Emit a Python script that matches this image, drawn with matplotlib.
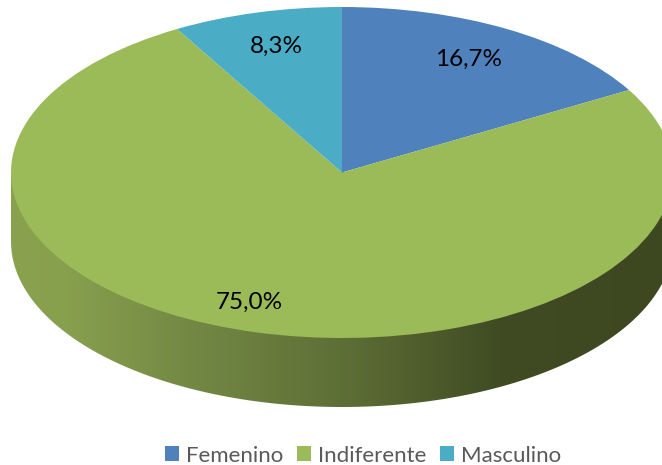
import numpy as np
import matplotlib
matplotlib.use("Agg")
import matplotlib.pyplot as plt
from matplotlib.colors import LinearSegmentedColormap
from matplotlib.patches import Polygon

categories = ["Femenino", "Indiferente", "Masculino"]
values = [16.7, 75.0, 8.3]
value_labels = ["16,7%", "75,0%", "8,3%"]

colors = ["#4F81BD", "#9BBB59", "#4BACC6"]
side_stops = [(0.0, "#8AA250"), (0.08, "#87A04E"), (0.29, "#718643"), (0.5, "#5E6F36"),
              (0.74, "#404B23"), (1.0, "#3D4720")]

W, H = 662, 465
CX, CY = 342.0, 172.5
RX, RY = 331.0, 165.5
DEPTH = 69.0 / RY


def to_data(px, py):
    # picture pixels to the unit circle of the pie
    return (px - CX) / RX, (CY - py) / RY


fig = plt.figure(figsize=(W / 100, H / 100), dpi=100)
ax = fig.add_axes([0, 0, 1, 1])

wedges, _ = ax.pie(values, colors=colors, startangle=90, counterclock=False,
                   radius=1, labels=categories, labeldistance=None,
                   wedgeprops={"linewidth": 0, "zorder": 3})

# pie forces a round shape, the tilted look needs the axes free
ax.set_aspect("auto")
x0, y1 = to_data(0, 0)
x1, y0 = to_data(W, H)

# side wall of the disc
cmap = LinearSegmentedColormap.from_list("side", side_stops)
ax.imshow(np.linspace(0, 1, 400).reshape(1, -1), cmap=cmap, aspect="auto",
          extent=(-1, 1, -1 - DEPTH, 0), zorder=1)

# white cover below the lower rim, so the edge stays smooth
t = np.linspace(np.pi, 2 * np.pi, 300)
rim = np.column_stack([np.cos(t), np.sin(t) - DEPTH])
cover = np.vstack([rim, [[1.05, -DEPTH], [1.05, -1.2 - DEPTH], [-1.05, -1.2 - DEPTH], [-1.05, -DEPTH]]])
ax.add_patch(Polygon(cover, closed=True, facecolor="white", edgecolor="none", zorder=2))

ax.set_xlim(x0, x1)
ax.set_ylim(y0, y1)
ax.axis("off")

label_pos = [(469, 59), (249, 302), (276, 46)]
for txt, (px, py) in zip(value_labels, label_pos):
    lx, ly = to_data(px, py)
    ax.text(lx, ly, txt, ha="center", va="center", fontsize=17.5, color="black",
            family="Lato", zorder=5)

leg = ax.legend(wedges, categories, ncol=3, frameon=False, loc="center",
                bbox_to_anchor=(363 / W, 1 - 455.5 / H),
                handlelength=0.64, handleheight=0.64, handletextpad=0.32,
                columnspacing=0.6, labelcolor="#595959",
                prop={"family": "Lato", "size": 16})
leg.set_zorder(6)

fig.savefig("out.png", dpi=100, facecolor="white")
